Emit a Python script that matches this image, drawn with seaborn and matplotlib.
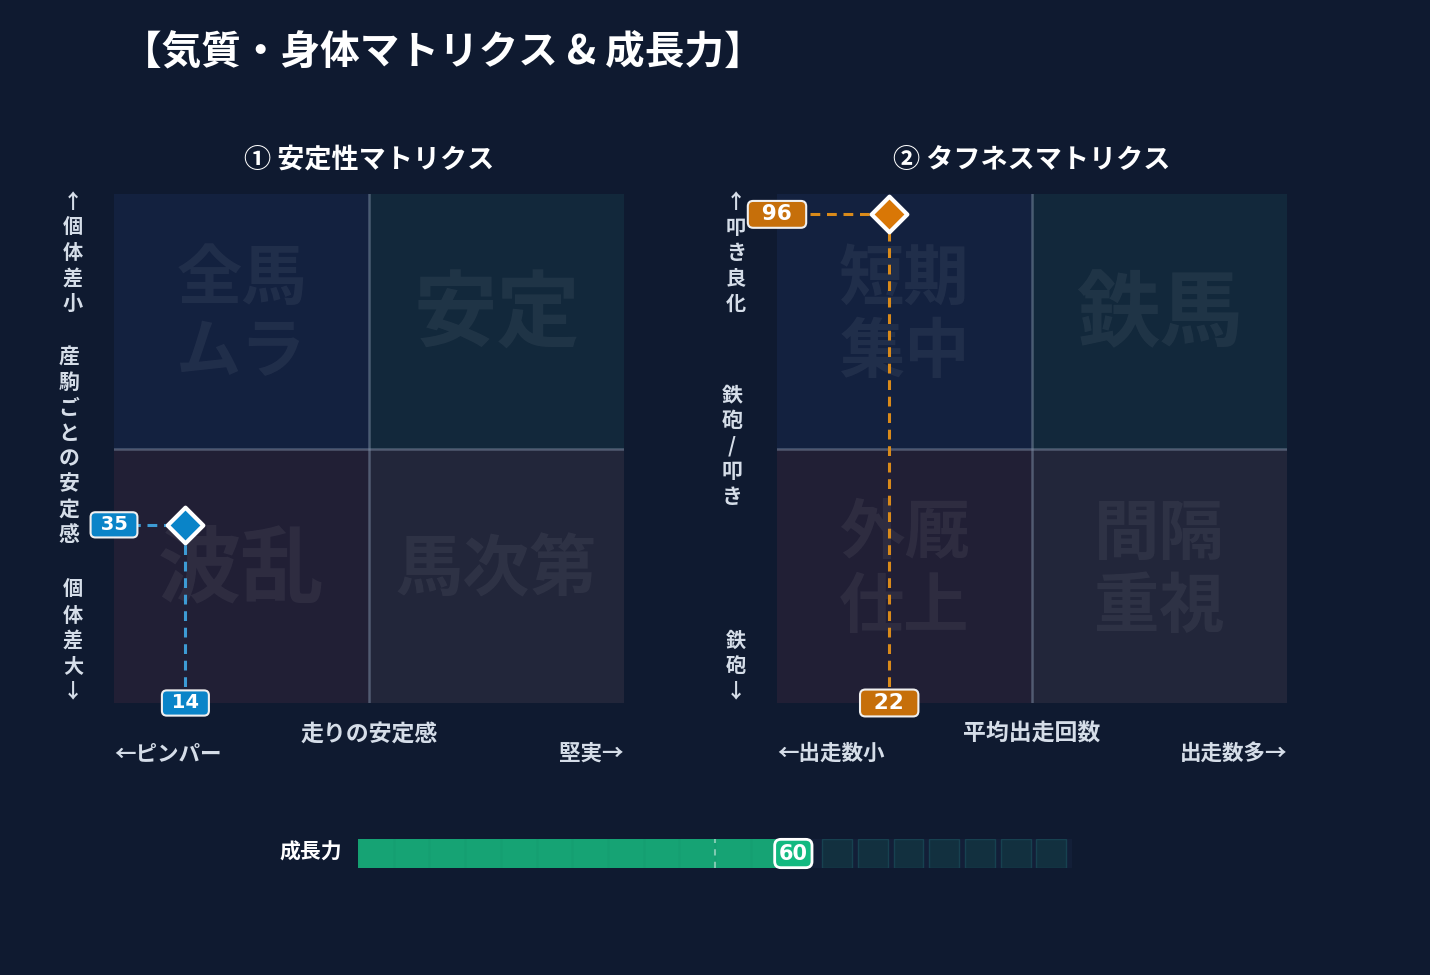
import matplotlib
matplotlib.use('Agg')
import matplotlib.pyplot as plt
from matplotlib.patches import Rectangle
import pandas as pd
import seaborn as sns

# ---- data ----
title = '【気質・身体マトリクス & 成長力】'
sub_titles = ['① 安定性マトリクス', '② タフネスマトリクス']
# quadrant order: top-left, top-right, bottom-left, bottom-right
quad_labels = [['全馬\nムラ', '安定', '波乱', '馬次第'],
               ['短期\n集中', '鉄馬', '外厩\n仕上', '間隔\n重視']]
x_titles = ['走りの安定感', '平均出走回数']
x_left = ['←ピンパー', '←出走数小']
x_right = ['堅実→', '出走数多→']
y_top = ['↑個体差小', '↑叩き良化']
y_mid = ['産駒ごとの安定感', '鉄砲/叩き']
y_bottom = ['個体差大↓', '鉄砲↓']
point_x = [14, 22]
point_y = [35, 96]
growth_label = '成長力'
growth_value = 60
growth_ref = 50
growth_max = 100
n_segments = 20

# ---- style ----
bg = '#0f1a30'
quad_colors = ['#13213f', '#12283b', '#211f35', '#22263a']
point_colors = ['#0a84c8', '#d97706']
box_colors = ['#0a84c8', '#c66f0a']
dash_colors = ['#3d9bd4', '#d98a1a']
num_size = [14, 15.5]
num_pad = [' ', '\u2002']
txt_col = '#d5dde8'
green = '#16a374'

plt.rcParams['font.family'] = ['Noto Sans CJK JP', 'DejaVu Sans']

W, H = 1430, 975
fig = plt.figure(figsize=(W / 100, H / 100), dpi=100, facecolor=bg)


def fx(x):
    return x / W


def fy(y):
    return 1 - y / H


def stack_text(x, y0, s, pitch=25.3, size=14.5):
    # vertical text, one glyph per row
    for i, ch in enumerate(s):
        fig.text(fx(x), fy(y0 + i * pitch), ch, ha='center', va='center',
                 fontsize=size, fontweight='bold', color=txt_col)


fig.text(fx(122), fy(53), title, ha='left', va='center', fontsize=28.5,
         fontweight='bold', color='white')

axes_px = [(114, 194), (777, 194)]
ylab_x = [(73, 69), (736, 732)]
mid_y = [446, 446]

for k in range(2):
    left, top = axes_px[k]
    ax = fig.add_axes([fx(left), fy(top + 509), 510 / W, 509 / H])
    ax.set_xlim(0, 100)
    ax.set_ylim(0, 100)
    ax.axis('off')

    cells = [(0, 50), (50, 50), (0, 0), (50, 0)]
    for (cx, cy), col, lab in zip(cells, quad_colors, quad_labels[k]):
        ax.add_patch(Rectangle((cx, cy), 50, 50, facecolor=col, edgecolor='none', zorder=0))
        if '\n' in lab:
            fs = 47
        else:
            fs = min(60, 145 / len(lab))
        ax.text(cx + 25, cy + 26, lab, ha='center', va='center', fontsize=fs,
                fontweight='bold', color='white', alpha=0.06, linespacing=1.12, zorder=1)
    ax.axvline(50, color='#8090a8', alpha=0.5, lw=1.8, zorder=2)
    ax.axhline(50, color='#8090a8', alpha=0.5, lw=1.8, zorder=2)

    px, py = point_x[k], point_y[k]
    ax.plot([0, px], [py, py], color=dash_colors[k], lw=2.2, dashes=(3.2, 2.2), zorder=3)
    ax.plot([px, px], [0, py], color=dash_colors[k], lw=2.2, dashes=(3.2, 2.2), zorder=3)
    sns.scatterplot(x=[px], y=[py], marker='D', s=330, color=point_colors[k],
                    edgecolor='white', linewidth=3, ax=ax, zorder=6, clip_on=False)

    box = dict(boxstyle='round,pad=0.16,rounding_size=0.25', fc=box_colors[k], ec='#f0f0f0', lw=1.5)
    sp = num_pad[k]
    ax.text(0, py, f'{sp}{py}{sp}', ha='center', va='center', fontsize=num_size[k],
            fontweight='bold', family='DejaVu Sans', color='white', bbox=box, zorder=7,
            clip_on=False)
    ax.text(px, 0, f'{sp}{px}{sp}', ha='center', va='center', fontsize=num_size[k],
            fontweight='bold', family='DejaVu Sans', color='white', bbox=box, zorder=7,
            clip_on=False)

    ax.text(0.5, 1.067, sub_titles[k], transform=ax.transAxes, ha='center', va='center',
            fontsize=19.5, fontweight='bold', color='white')
    ax.text(0.5, -0.062, x_titles[k], transform=ax.transAxes, ha='center', va='center',
            fontsize=16.5, fontweight='bold', color=txt_col)
    ax.text(0, -0.099, x_left[k], transform=ax.transAxes, ha='left', va='center',
            fontsize=15.5, fontweight='bold', color=txt_col)
    ax.text(1, -0.099, x_right[k], transform=ax.transAxes, ha='right', va='center',
            fontsize=15.5, fontweight='bold', color=txt_col)

    xo, xm = ylab_x[k]
    stack_text(xo, 202, y_top[k])
    n = len(y_mid[k])
    stack_text(xm, mid_y[k] - (n - 1) * 25.3 / 2, y_mid[k], size=15)
    nb = len(y_bottom[k])
    stack_text(xo, 691 - (nb - 1) * 25.3, y_bottom[k])

# ---- growth bar ----
axg = fig.add_axes([fx(358), fy(868), 714 / W, 29 / H])
seg = growth_max / n_segments
axg.add_patch(Rectangle((0, -0.5), growth_max, 1, facecolor='#131f38', edgecolor='none', zorder=0))
df = pd.DataFrame({'label': [growth_label], 'value': [growth_value]})
sns.barplot(data=df, x='value', y='label', orient='h', color=green, saturation=1,
            width=1.0, ax=axg, zorder=2)
for i in range(n_segments):
    x0 = i * seg
    if x0 < growth_value:
        axg.axvline(x0, color='black', alpha=0.02, lw=2, zorder=3)
    elif x0 >= growth_value + seg:
        axg.add_patch(Rectangle((x0, -0.5), seg * 0.84, 1, facecolor='#12303f',
                                edgecolor='#174150', lw=1, zorder=2))
axg.axvline(growth_ref, ymin=0.0, ymax=1.0, color='white', alpha=0.45, lw=1.5,
            dashes=(3, 3), zorder=4)
axg.set_xlim(0, growth_max)
axg.set_ylim(0.5, -0.5)
axg.axis('off')
axg.annotate(str(growth_value), xy=(growth_value, 0), xytext=(5, 0), textcoords='offset points',
             ha='center', va='center', fontsize=15, fontweight='bold', family='DejaVu Sans',
             color='white', zorder=8, annotation_clip=False,
             bbox=dict(boxstyle='round,pad=0.2,rounding_size=0.3', fc='#13b980', ec='white', lw=2))
fig.text(fx(342), fy(852), growth_label, ha='right', va='center', fontsize=15,
         fontweight='bold', color='white')

fig.savefig('out.png', dpi=100, facecolor=bg)
